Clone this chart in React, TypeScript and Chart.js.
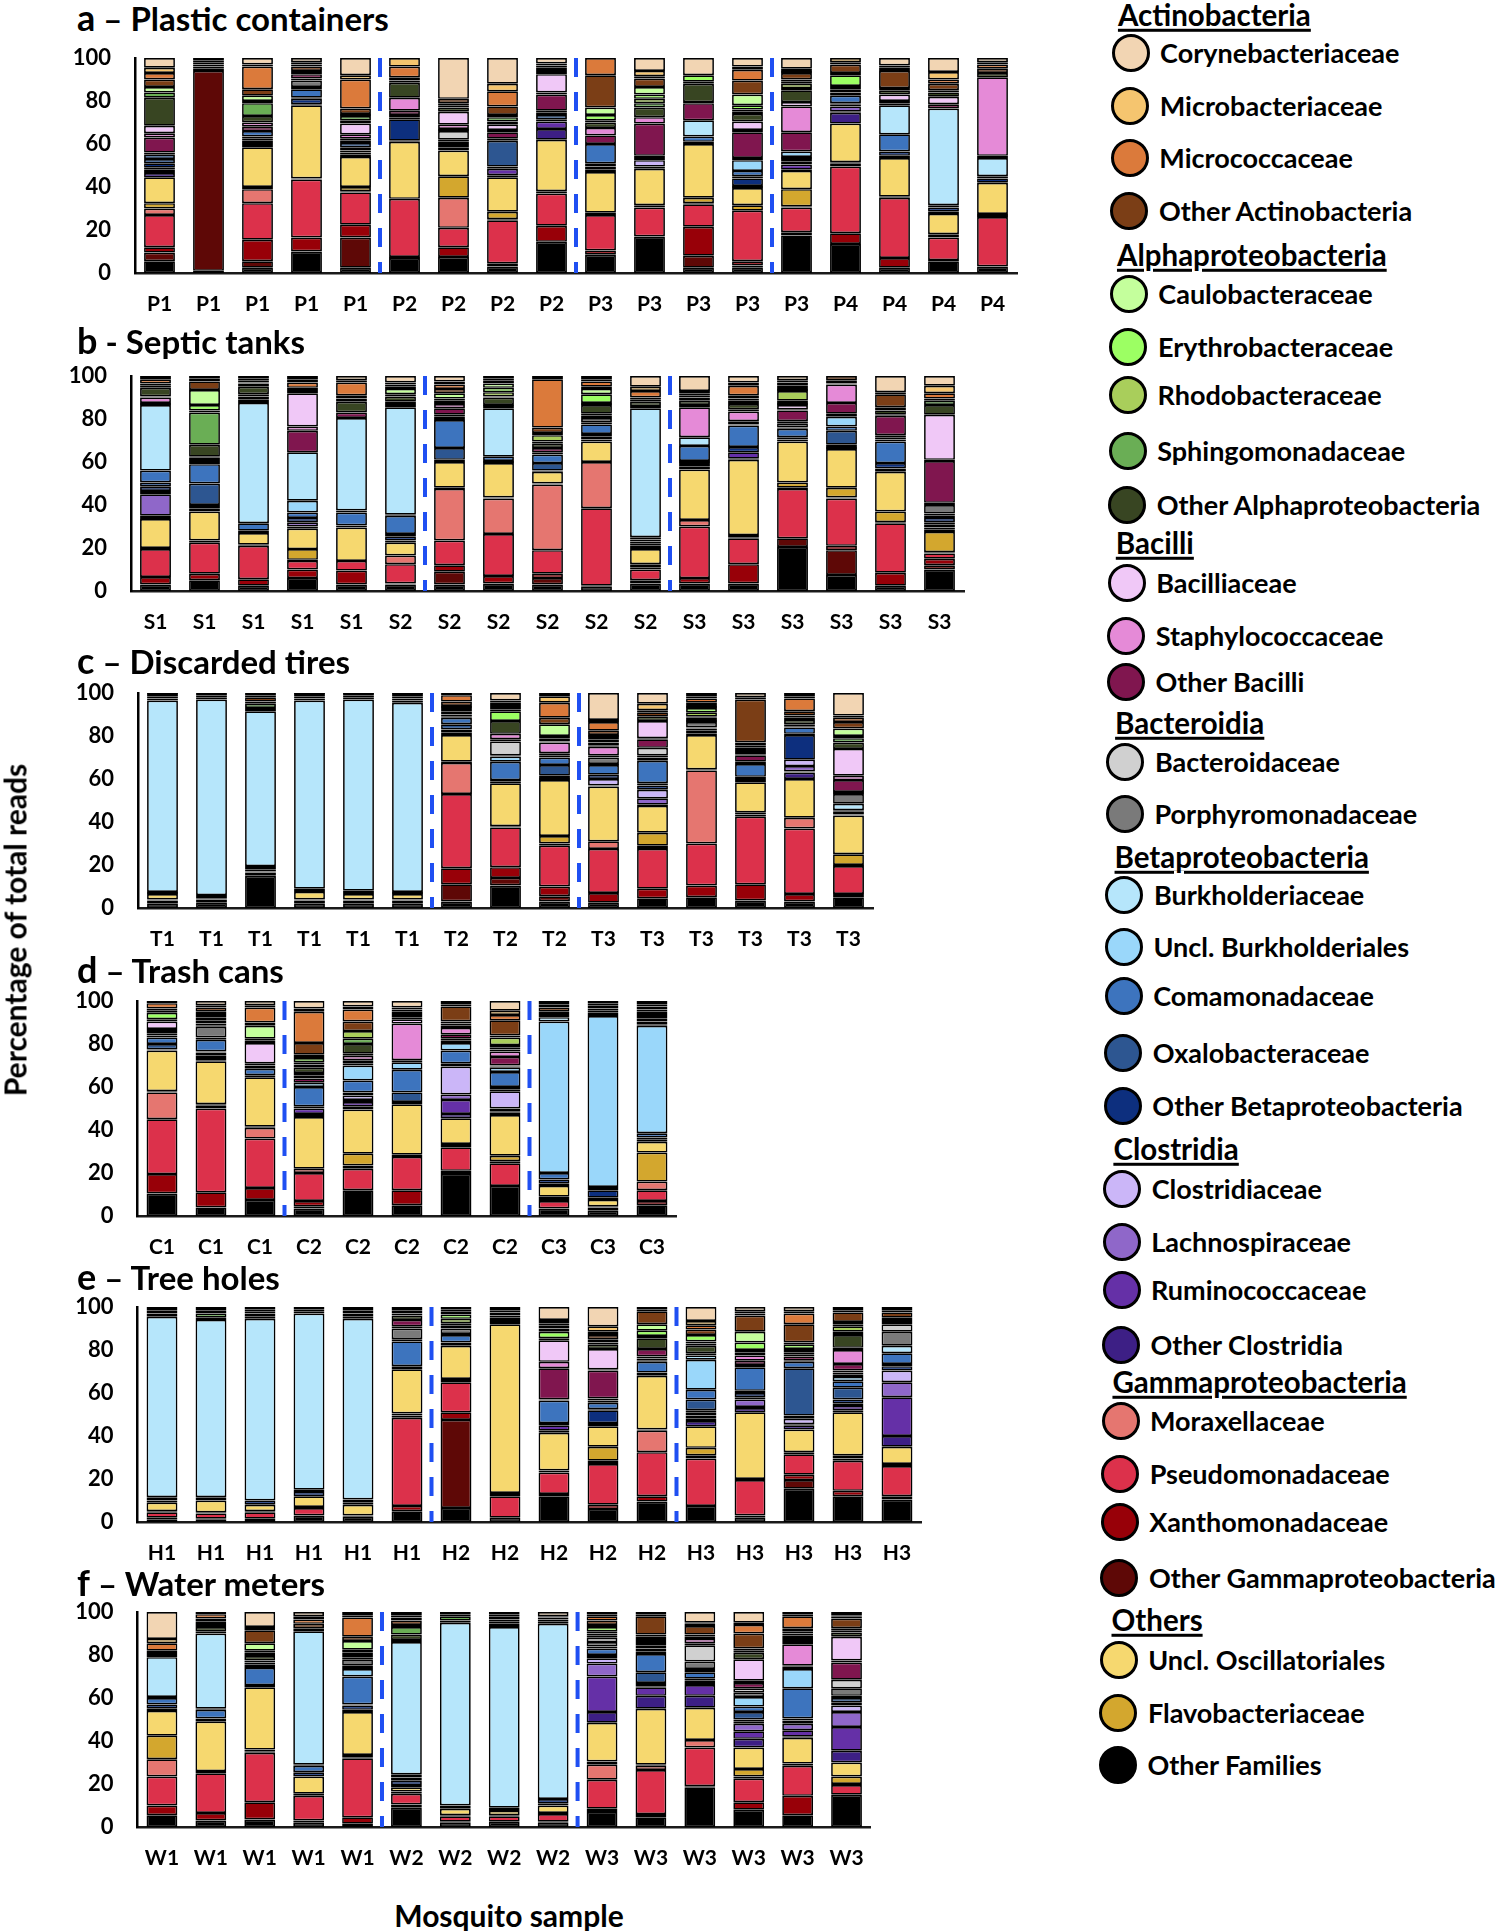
import React, { useEffect, useRef } from 'react';
import { Chart, registerables } from 'chart.js';

Chart.register(...registerables);

const FONT = 'Lato, "Open Sans", "DejaVu Sans", sans-serif';

// ---- Families (legend order) ----
const familyKeys = ['Cor','Mb','Mc','OAc','Ca','Er','Rh','Sp','OA','Bc','St','OBa','Bd','Po','Bu','UB','Co','Ox','OB','Cl','La','Ru','OC','Mo','Ps','Xa','OG','Os','Fl','OF'];
const familyNames = [
  'Corynebacteriaceae','Microbacteriaceae','Micrococcaceae','Other Actinobacteria',
  'Caulobacteraceae','Erythrobacteraceae','Rhodobacteraceae','Sphingomonadaceae','Other Alphaproteobacteria',
  'Bacilliaceae','Staphylococcaceae','Other Bacilli',
  'Bacteroidaceae','Porphyromonadaceae',
  'Burkholderiaceae','Uncl. Burkholderiales','Comamonadaceae','Oxalobacteraceae','Other Betaproteobacteria',
  'Clostridiaceae','Lachnospiraceae','Ruminococcaceae','Other Clostridia',
  'Moraxellaceae','Pseudomonadaceae','Xanthomonadaceae','Other Gammaproteobacteria',
  'Uncl. Oscillatoriales','Flavobacteriaceae','Other Families'
];
const familyColors = [
  '#F2D5B3','#F5C56F','#DB7A3B','#7B3E16',
  '#C4FF9C','#9CFF63','#A9CE5B','#6AAE55','#384522',
  '#F0C8F7','#E58AD7','#80164F',
  '#D0D0D0','#7A7A7A',
  '#B6E6FB','#9AD7FA','#3D74BE','#2D5691','#0D2F7E',
  '#CBB6F8','#8F67C9','#6530A7','#3D1F85',
  '#E57670','#DC314B','#980008','#5E0806',
  '#F6D86F','#D3A72E','#000000'
];
const groupTitles = ['Actinobacteria','Alphaproteobacteria','Bacilli','Bacteroidia','Betaproteobacteria','Clostridia','Gammaproteobacteria','Others'];
const groupFirstKeys = ['Cor','Ca','Bc','Bd','Bu','Cl','Mo','Os'];
// bottom -> top stacking order
const stackOrder = ['OF','OG','Xa','Ps','Mo','Fl','Os','OC','Ru','La','Cl','OB','Ox','Co','UB','Bu','Po','Bd','OBa','St','Bc','OA','Sp','Rh','Er','Ca','OAc','Mc','Mb','Cor'];

type Bar = { [k: string]: number };

// ---- a: Plastic containers ----
const plasticLabels = ['P1','P1','P1','P1','P1','P2','P2','P2','P2','P3','P3','P3','P3','P3','P4','P4','P4','P4'];
const plasticDividers = [5, 9, 13];
const plasticBars: Bar[] = [
  {OF:5.5,OG:4,Xa:2.5,Ps:15,Mo:3,Fl:2.5,Os:12,OC:2,Ru:1.5,La:1,OB:2,Ox:2,Co:2,Po:1,OBa:7,St:2,Bc:3.5,OA:13,Sp:2.5,Ca:2.5,OAc:3.5,Mc:3,Mb:2.5,Cor:4.5},
  {OF:1,OG:93,OB:1,OBa:1,OA:1,OAc:1,Mc:1,Cor:1},
  {OF:2.5,OG:3,Xa:10,Ps:17,Mo:6.5,Fl:1,Os:18.5,OC:1.5,Ru:1.5,La:1,OB:1,Co:2.5,OBa:2,St:2,OA:3,Sp:6,Ca:2.5,Er:1,OAc:3,Mc:10.5,Mb:1,Cor:3},
  {OF:10,Xa:6.5,Ps:27,Fl:0.5,Os:34,OC:0.5,OB:2.5,Ox:0.5,Co:4,UB:1,Po:3,Bd:1,OBa:2,OA:1.5,OAc:2,Mc:1,Mb:1,Cor:2},
  {OF:2.5,OG:14,Xa:6,Ps:15,Mo:0.5,Fl:2,Os:14,OC:1,Ru:1,OB:1,Ox:1.5,Co:2,UB:1,OBa:1,St:2,Bc:5,OA:1.5,Sp:2,Rh:1,OAc:2.5,Mc:13.5,Mb:2,Cor:8},
  {OF:7,OG:0.5,Ps:27,Os:26.5,OC:0.5,OB:10,Ox:1,Co:1,OBa:2,St:6,OA:7,Sp:1,OAc:1.5,Mc:5,Mb:4},
  {OF:7.5,Xa:4.5,Ps:9,Mo:14,Fl:10,Os:12,OC:1.5,OB:1,UB:1.5,Po:1,Bd:4,OBa:1,St:2,Bc:6,OA:2,Sp:1,Er:1,OAc:2,Cor:19},
  {OF:3,Xa:1.5,Ps:20,Mo:0.5,Fl:3.5,Os:16,OC:1,Ru:3,OB:1,Ox:12,Co:1,OBa:3,St:1,Bc:2.5,OA:1.5,Sp:2,Er:1,OAc:4,Mc:7,Mb:3.5,Cor:12},
  {OF:14.5,Xa:7.5,Ps:15,Fl:1,Os:24,OC:5,Ru:3.5,OB:1,Co:2,UB:1,Po:1,OBa:7.5,St:1,Bc:8.5,OA:1.5,Er:1.5,Ca:1,OAc:1,Cor:2.5},
  {OF:8.5,Xa:2,Ps:16.5,Fl:1,Os:19,OC:1,OB:1.5,Ox:1.5,Co:9,OBa:4,St:3.5,OA:2.5,Sp:1,Er:2.5,Ca:3.5,OAc:15,Mc:8,Mb:0.5,Cor:1.5},
  {OF:17,Ps:13.5,Fl:1,Os:17,OC:1,Cl:3,OB:1,Bd:1,OBa:15,St:3,OA:4.5,Sp:2,Rh:2,Er:2,Ca:3.5,OAc:4,Mc:1,Mb:2.5,Cor:6},
  {OF:2.5,OG:5.5,Xa:13.5,Ps:10.5,Mo:0.5,Fl:2.5,Os:25,OB:1,Co:2.5,Bu:7.5,OBa:8,St:0.5,OA:8.5,Sp:1,Er:3,Cor:8},
  {OF:2.5,OG:1,Xa:2,Ps:23.5,Fl:2.5,Os:8,OC:1,OB:3.5,Ox:1,Co:2.5,UB:5,Po:1,OBa:12,St:1,Bc:4,OA:3.5,Sp:1,Rh:1,Er:2,Ca:5,OAc:6.5,Mc:5,Mb:1.5,Cor:4},
  {OF:17.5,Xa:1.5,Ps:11.5,Mo:0.5,Fl:8,Os:8.5,OC:0.5,Ru:2.5,La:1.5,OB:1,Ox:1,UB:2.5,OBa:9,St:12,Bc:2,OA:5.5,Sp:1,Rh:2,Er:1,Ca:1,OAc:3,Mc:1,Mb:1,Cor:5},
  {OF:13.5,Xa:5,Ps:31,Mo:1.5,Fl:0.5,Os:18,OC:5,Ru:0.5,La:2.5,OB:1,Ox:0.5,Co:3.5,OBa:1.5,OA:1.5,Sp:1.5,Er:5,Ca:1,OAc:4,Mc:1,Mb:2},
  {OF:2.5,Xa:4.5,Ps:28,Fl:0.5,Os:18,OC:1,OB:2,Co:8,Bu:13.5,Po:1,OBa:1,Bc:3,OA:2,Sp:1,OAc:8,Mc:1.5,Mb:1,Cor:3.5},
  {OF:5.5,Xa:0.5,Ps:10.5,Fl:1.5,Os:9.5,OC:1,OB:2,Co:1,Bu:45,OBa:2,Bc:3.5,OA:2,Sp:1,OAc:3,Mc:2,Mb:3.5,Cor:6.5},
  {OF:3,Ps:23,Fl:1.5,Os:14.5,OB:2,Co:1,Bu:8.5,Po:1,St:36.5,OA:2,OAc:2,Mc:2,Mb:1,Cor:2},
];

// ---- b: Septic tanks ----
const septicLabels = ['S1','S1','S1','S1','S1','S2','S2','S2','S2','S2','S2','S3','S3','S3','S3','S3','S3'];
const septicDividers = [6, 11];
const septicBars: Bar[] = [
  {OF:3,Xa:3.5,Ps:13,Fl:0.5,Os:13.5,OC:1.5,La:10,Cl:1.5,OB:2,Ox:2,Co:5.5,Bu:30.5,OBa:1,St:2.5,Bc:0.5,OA:4,Sp:1,OAc:1,Mc:2,Mb:1.5},
  {OF:5,Xa:3,Ps:14.5,Fl:1,Os:13.5,OC:1.5,OB:1.5,Ox:10,Co:9,UB:1.5,OBa:1.5,St:0.5,OA:5.5,Sp:15,Rh:1,Er:2.5,Ca:7,OAc:4,Mc:1.5,Cor:1},
  {OF:2.5,Xa:3,Ps:15.5,Fl:0.5,Os:5.5,OB:1,Co:3.5,Bu:56,OBa:1.5,St:1.5,Bc:1,OA:3.5,Sp:1.5,Ca:0.5,OAc:1,Mc:1,Mb:1},
  {OF:6,Xa:4,Ps:4,Mo:0.5,Fl:5,Os:9.5,OC:1,La:2,OB:2,Co:2.5,UB:5.5,Bu:22.5,OBa:10,St:2,Bc:15.5,OA:1.5,OAc:1,Mc:2.5,Mb:1.5,Cor:1.5},
  {OF:3,Xa:6.5,Ps:4.5,Os:15.5,OB:1,Co:6,UB:1,Bu:43,OBa:2.5,OA:5,Sp:1.5,OAc:1.5,Mc:6,Mb:1,Cor:2},
  {OF:3,Xa:0.5,Ps:9,Mo:4,Os:6,OC:1,OB:2,Ox:1,Co:8.5,UB:0.5,Bu:50,OBa:1,St:1.5,OA:2.5,Sp:1,Ca:2.5,OAc:1,Mc:1,Mb:1,Cor:3},
  {OF:3,OG:6,Xa:3,Ps:11.5,Mo:24,Fl:0.5,Os:12,OB:1,Ox:5.5,Co:13,UB:1.5,Bd:1,OBa:3,St:2,OA:1.5,Sp:1,Ca:2.5,OAc:2,Mc:2,Mb:1.5,Cor:2.5},
  {OF:3.5,Xa:3.5,Ps:19.5,Mo:16.5,Fl:0.5,Os:16,OB:1,Co:2,Bu:22.5,OBa:1,St:0.5,OA:3.5,Sp:0.5,Rh:2,Er:2,Ca:2,OAc:1.5,Mc:1,Cor:1},
  {OF:3,OG:3,Xa:2,Ps:11,Mo:30.5,Fl:0.5,Os:5.5,OB:0.5,Ox:3.5,Co:4,Po:1,OBa:2,OA:2,Sp:1,Rh:3,Er:1,OAc:2.5,Mc:22.5,Cor:1.5},
  {OF:2,OG:0.5,Ps:36,Mo:21.5,Os:9.5,OC:1,OB:1.5,Ox:1,Co:4.5,UB:1,Po:2,Bd:1,OBa:1,OA:4,Sp:1,Er:4,Ca:2.5,OAc:1,Mc:2.5,Mb:1,Cor:1.5},
  {OF:3.5,Xa:1.5,Ps:5,Mo:1,Fl:1.5,Os:7,OC:1.5,Ru:1,OB:1,Co:1,UB:1,Bu:60,OBa:1,OA:2,Sp:1,OAc:1,Mc:3,Mb:2,Cor:5},
  {OF:3.5,Xa:2.5,Ps:24,Mo:3,Os:23.5,OC:1.5,Ru:1.5,OB:1,Co:7,Bu:4,St:14,Bc:1,OA:2,Sp:1.5,Rh:1,Er:1,OAc:1,Cor:7},
  {OF:3.5,Xa:9,Ps:12,Mo:0.5,Fl:1,Os:35,OC:0.5,Ru:3,OB:2.5,Co:10,UB:0.5,Bd:1.5,St:4.5,Bc:1,OA:2.5,Sp:1.5,Er:1,OAc:1.5,Mc:4.5,Mb:1.5,Cor:3},
  {OF:20.5,OG:4,Ps:23,Mo:0.5,Fl:2.5,Os:19,OC:1,OB:1,Co:4,UB:0.5,Po:2,Bd:1,OBa:5,St:0.5,Bc:2,OA:1,Sp:1,Rh:4.5,Er:1,OAc:1.5,Mc:1.5,Mb:1,Cor:2},
  {OF:7.5,OG:11.5,Xa:2,Ps:22,Mo:0.5,Fl:4.5,Os:18,OC:1,OB:1,Ox:6.5,Co:2,UB:4.5,Bu:1.5,OBa:5,St:8.5,OA:0.5,Sp:1.5,OAc:2},
  {OF:2.5,Xa:6,Ps:23,Mo:0.5,Fl:5,Os:18.5,OC:1.5,OB:2.5,Co:10,UB:1,Po:1,Bd:1,OBa:9,St:0.5,OA:2,Sp:1.5,OAc:6,Mc:1,Cor:7.5},
  {OF:10,OG:2,Xa:3,Ps:2.5,Mo:0.5,Fl:9.5,Os:1,OC:1,Ru:1.5,La:1,OB:2,Co:1,UB:1,Po:4,Bd:1,OBa:19.5,St:0.5,Bc:21,OA:4.5,Sp:2,OAc:1,Mc:2.5,Mb:3.5,Cor:4.5},
];

// ---- c: Discarded tires ----
const tireLabels = ['T1','T1','T1','T1','T1','T1','T2','T2','T2','T3','T3','T3','T3','T3','T3'];
const tireDividers = [6, 9];
const tireBars: Bar[] = [
  {OF:2,Ps:1.5,Fl:0.5,Os:2.5,OB:1,Bu:89,OA:1,OAc:1,Mc:1,Cor:0.5},
  {OF:2.5,Fl:1.5,Os:0.5,OB:1.5,Bu:91,OA:1,OAc:1,Cor:1},
  {OF:15,Fl:1.5,Os:0.5,OC:1,OB:1.5,Bu:72,OA:1.5,Sp:2,Rh:1,OAc:2,Mc:1,Cor:1},
  {OF:2,Ps:1.5,Fl:0.5,Os:3.5,OB:1.5,Bu:87.5,OA:1,OAc:1,Mc:1,Cor:0.5},
  {OF:2,Ps:1.5,Fl:0.5,Os:2.5,OB:1.5,Bu:89,OA:1,OAc:1,Mc:0.5,Cor:0.5},
  {OF:2,Ps:1.5,Fl:0.5,Os:2.5,OB:1,Bu:88,OBa:1,OA:1,OAc:1,Mc:1,Cor:0.5},
  {OF:3,OG:8,Xa:7.5,Ps:34.5,Mo:14.5,Fl:0.5,Os:12.5,OC:1,OB:1.5,Ox:2.5,Co:3,UB:0.5,OBa:1,OA:1.5,Sp:1.5,Rh:1,OAc:2,Mc:3,Mb:1},
  {OF:10.5,OG:3.5,Xa:5,Ps:18.5,Fl:0.5,Os:20,OB:1,Ox:0.5,Co:8.5,UB:2.5,Po:0.5,Bd:6.5,OBa:1,St:2.5,OA:6,Er:4.5,Ca:1,OAc:1.5,Mc:1.5,Mb:1,Cor:3.5},
  {OF:3,OG:2.5,Xa:4.5,Ps:19,Mo:1,Fl:3.5,Os:26,OC:1,OB:1,Ox:5,Co:3.5,UB:1,OBa:1,St:5,Bc:0.5,OA:1.5,Sp:1,Ca:5.5,OAc:3,Mc:7,Mb:3,Cor:1.5},
  {OF:2.5,Xa:4.5,Ps:20.5,Mo:3.5,Os:25.5,OC:0.5,Cl:3,OB:2,Co:4.5,UB:0.5,Po:3,Bd:1,St:4,Bc:0.5,OA:1.5,Sp:1.5,Rh:1,Er:1,OAc:2,Mc:4,Mb:1,Cor:12.5},
  {OF:4.5,Xa:4.5,Ps:18.5,Mo:1.5,Fl:6,Os:12.5,OC:0.5,La:3,Cl:4,OB:2,Ox:1,Co:10.5,UB:1.5,Po:1,Bd:3.5,OBa:4,St:0.5,Bc:8,OA:2,OAc:2,Mc:1,Mb:3,Cor:5},
  {OF:5,Xa:5.5,Ps:19.5,Mo:34,Fl:0.5,Os:16,OC:0.5,OB:1.5,Co:1,UB:0.5,Po:2.5,Bd:0.5,OBa:0.5,OA:1,Sp:0.5,Rh:2,Er:2,Ca:1,OAc:1.5,Mc:2,Mb:1,Cor:1.5},
  {OF:3.5,Xa:7.5,Ps:31.5,Mo:1,Fl:1,Os:14,OC:1,OB:1.5,Co:6,UB:1,OBa:3,St:0.5,OA:1.5,Sp:1.5,Rh:1,Er:1.5,OAc:20,Mc:1,Cor:2},
  {OF:3,Xa:3.5,Ps:30.5,Mo:5,Os:18,OC:3,Ru:0.5,La:2.5,Cl:3,OB:11.5,Ox:0.5,Co:3,UB:0.5,OBa:1,OA:2,Sp:1,Rh:1,OAc:2,Mc:6,Mb:1,Cor:1.5},
  {OF:5,Xa:1.5,Ps:13,Mo:0.5,Fl:5,Os:18,OC:0.5,OB:1.5,Co:0.5,Bu:3,Po:4.5,Bd:1,OBa:5.5,St:2,Bc:12.5,OA:3,Sp:2,Rh:1,Ca:3.5,OAc:3,Mc:2,Mb:1,Cor:10.5},
];

// ---- d: Trash cans ----
const trashLabels = ['C1','C1','C1','C2','C2','C2','C2','C2','C3','C3','C3'];
const trashDividers = [3, 8];
const trashBars: Bar[] = [
  {OF:10.5,Xa:9,Ps:25.5,Mo:12.5,Fl:0.5,Os:19,OB:0.5,Ox:2.5,Co:3,UB:1,Po:1,Bd:1,OBa:1,Bc:3.5,OA:1,Er:3,Ca:1,OAc:1,Mc:2.5,Cor:1},
  {OF:4,Xa:7,Ps:39,Mo:1.5,Fl:0.5,Os:20,OC:0.5,La:1.5,Cl:0.5,OB:1.5,Ox:0.5,Co:5.5,UB:1,Po:5,Bd:0.5,OBa:1,OA:1.5,Sp:1.5,Rh:1.5,Er:1,OAc:2,Mc:1,Cor:2},
  {OF:7.5,Xa:5.5,Ps:23,Mo:5,Fl:0.5,Os:23,OB:1,Co:3,UB:1.5,OBa:1,Bc:9.5,OA:1,Sp:1,Ca:6,OAc:1.5,Mc:7,Mb:1,Cor:2},
  {OF:3.5,OG:1,Xa:2.5,Ps:13,Mo:2,Os:24,OC:1.5,Ru:2.5,OB:1,Co:9,UB:2,OBa:2,St:1.5,Bc:1,OA:2.5,Sp:1.5,Rh:1,Er:2,Ca:1.5,OAc:5.5,Mc:14.5,Mb:1.5,Cor:3.5},
  {OF:12,Ps:10,Mo:1.5,Fl:5.5,Os:20.5,OC:1.5,Ru:2,La:1,Cl:2,OB:1.5,Co:5.5,UB:7,Po:1,OBa:1.5,St:2,Bc:1,OA:4.5,Sp:2.5,Rh:3.5,OAc:4.5,Mc:5.5,Mb:1.5,Cor:2.5},
  {OF:5,Xa:7,Ps:15.5,Fl:1,Os:23.5,OB:1,Ox:4.5,Co:10.5,UB:3.5,OBa:1,St:17,Bc:2,OA:1,Sp:1,Er:1.5,OAc:1,Mc:1,Cor:3},
  {OF:19.5,Xa:1.5,Ps:11,Mo:1.5,Os:12,OC:2,Ru:6.5,La:2.5,Cl:13,OB:1.5,Co:6,UB:3.5,Po:1,Bd:1,OBa:2,St:3,OA:1,Sp:1,Er:1,OAc:7,Mc:1,Cor:1.5},
  {OF:14,Ps:10.5,Mo:1,Fl:2.5,Os:19,OC:1,Ru:0.5,La:1.5,Cl:8,OB:1,Ox:1,Co:7,UB:2,Po:0.5,Bd:0.5,OBa:4,St:2.5,Bc:1,OA:1,Sp:1,Rh:3.5,Er:1,OAc:7,Mc:2.5,Mb:2,Cor:4.5},
  {OF:3.5,Ps:3.5,Mo:0.5,Fl:1.5,Os:5,OC:1,OB:2,Co:3,UB:70.5,Bu:2,OBa:1,OA:1.5,OAc:2,Mc:1.5,Cor:1.5},
  {OF:2.5,Ps:1.5,Fl:0.5,Os:3,OC:1,OB:3.5,Co:1.5,UB:79.5,Bu:1.5,OBa:1,OA:1,OAc:1.5,Mc:1,Cor:1},
  {OF:5,Xa:2,Ps:5,Mo:4,Fl:13.5,Os:5,OC:1,OB:1,Co:2,UB:50,Bu:0.5,OBa:1.5,St:1.5,OA:1.5,Sp:1.5,Rh:1,OAc:1.5,Mc:1,Cor:1.5},
];

// ---- e: Tree holes ----
const treeLabels = ['H1','H1','H1','H1','H1','H1','H2','H2','H2','H2','H2','H3','H3','H3','H3','H3'];
const treeDividers = [6, 11];
const treeBars: Bar[] = [
  {OF:1,Xa:1,Ps:2.5,Fl:0.5,Os:4,OC:1,OB:1.5,Bu:84,OA:1.5,OAc:1.5,Mc:1,Cor:0.5},
  {OF:1,Xa:0.5,Ps:2.5,Fl:0.5,Os:5.5,OB:1.5,Bu:82.5,OA:1,Sp:2,OAc:1.5,Mc:1,Cor:0.5},
  {OF:1.5,Ps:3,Fl:0.5,Os:3,OB:2,Bu:84.5,OA:1,OAc:1.5,Mc:1,Mb:1,Cor:1},
  {OF:3,Ps:3.5,Fl:0.5,Os:5,OB:2,Co:1,Bu:82,OA:1,OAc:1,Cor:1},
  {OF:2.5,Ps:0.5,Os:5,OC:1,OB:1.5,Bu:84,OBa:1,OA:1.5,OAc:1.5,Mc:1,Cor:0.5},
  {OF:5,Xa:2.5,Ps:41,Mo:1,Fl:1,Os:20.5,OB:1.5,Co:11.5,UB:1,Po:5,Bd:1,OBa:3,OA:2,Sp:1,Rh:1.5,OAc:1,Cor:0.5},
  {OF:6.5,OG:41,Xa:3.5,Ps:14,Mo:1.5,Os:15.5,OB:1.5,Co:3.5,UB:0.5,Po:2.5,OBa:1.5,OA:1,Rh:2,Er:2,OAc:1.5,Mc:1,Cor:1},
  {OF:2,Ps:10,Mo:1.5,Os:78.5,OB:1.5,Co:1.5,OA:1,OAc:1.5,Mc:1,Cor:1.5},
  {OF:12,OG:1,Ps:10,Fl:1,Os:17.5,OC:1,Ru:2.5,OB:1,Co:10.5,UB:0.5,OBa:14.5,St:3,Bc:10,OA:1,Er:3,Ca:1.5,OAc:1.5,Mc:1,Mb:1.5,Cor:6},
  {OF:6,Xa:2,Ps:19,Mo:1.5,Fl:6.5,Os:9.5,OC:1.5,OB:6,Ox:0.5,Co:3,UB:1,Po:1,OBa:13,St:0.5,Bc:9.5,OA:2,Sp:1,Er:1.5,OAc:2,Mc:1.5,Mb:2.5,Cor:9},
  {OF:9.5,Xa:2.5,Ps:20.5,Mo:10,Fl:0.5,Os:25,OB:1.5,Co:5,UB:0.5,Po:1,Bd:1,OBa:3.5,OA:5,Sp:1,Er:2.5,Ca:3,OAc:6,Mc:1,Cor:1},
  {OF:7.5,Ps:22,Mo:1.5,Fl:3.5,Os:10,OC:2.5,Ru:1,La:1.5,Cl:1.5,OB:1,Ox:5,Co:4.5,UB:14,Bu:2,OBa:1,OA:3.5,Sp:1,Rh:1,Er:3,OAc:2.5,Mc:2,Mb:2,Cor:6.5},
  {OF:2,Xa:1,Ps:16.5,Fl:0.5,Os:31,OC:2,Ru:0.5,La:3.5,Cl:1,OB:2,Ox:1,Co:11,UB:1,OBa:2,St:2.5,OA:1.5,Sp:1,Er:3.5,Ca:5,OAc:7.5,Mc:1,Mb:1,Cor:2},
  {OF:15.5,OG:4,Xa:2.5,Ps:9.5,Fl:1,Os:10.5,OC:2,Ru:0.5,Cl:2.5,OB:1.5,Ox:22,Co:3,UB:0.5,OBa:2,OA:1,Sp:1,Rh:1.5,Er:2,Ca:1,OAc:8.5,Mc:5,Mb:1,Cor:2},
  {OF:12,Xa:2.5,Ps:14,Mo:1,Fl:1.5,Os:20,OC:1,Ru:2,La:1,OB:2,Ox:5.5,Co:3,UB:2,Bu:1,Po:1,Bd:1,OBa:3,St:6.5,Bc:1,OA:6,Sp:1.5,Rh:2.5,Er:1,Ca:1,OAc:4.5,Mc:1,Cor:1.5},
  {OF:10.5,OG:1.5,Ps:14,Fl:1,Os:8,OC:5,Ru:18,La:7,Cl:5.5,OB:2,Ox:1,Co:5,Bu:3.5,Po:6.5,Bd:3.5,OBa:1,OA:1,Sp:1,OAc:2.5,Mc:1,Cor:1.5},
];

// ---- f: Water meters ----
const meterLabels = ['W1','W1','W1','W1','W1','W2','W2','W2','W2','W3','W3','W3','W3','W3','W3'];
const meterDividers = [5, 9];
const meterBars: Bar[] = [
  {OF:5.5,Xa:4.5,Ps:13.5,Mo:8,Fl:11,Os:11.5,OC:1,OB:2,Co:3,UB:0.5,Bu:18.5,OA:1.5,OAc:1.5,Mc:3.5,Mb:2,Cor:12.5},
  {OF:3,Xa:3.5,Ps:18.5,Fl:1,Os:23,OB:1.5,Co:4,UB:0.5,Bu:35,OBa:1,OA:2,Sp:1,Rh:1.5,OAc:1.5,Mc:2,Cor:1},
  {OF:3.5,Xa:8,Ps:23,Mo:0.5,Fl:1,Os:29,OB:1,Co:8,UB:1.5,Bu:1,OBa:1,OA:2,Sp:1.5,Rh:1,Ca:3.5,OAc:6,Mc:1.5,Cor:7},
  {OF:2,OG:1,Ps:11.5,Fl:1,Os:8,OB:2,Co:3,UB:0.5,Bu:62,OA:1.5,OAc:2,Mc:2,Mb:1.5,Cor:2},
  {OF:1.5,Xa:3,Ps:27.5,Mo:0.5,Fl:1,Os:20,OC:1,OB:2,Ox:0.5,Co:13,UB:3.5,Bu:1.5,Po:3,Bd:1,OBa:1,OA:1,Sp:1.5,Ca:4,OAc:2,Mc:9,Mb:1,Cor:1.5},
  {OF:9,Xa:1.5,Ps:5,Fl:1,Os:2,OC:1,OB:2,Co:1.5,UB:1.5,Bu:61.5,OBa:1,OA:2.5,Sp:3.5,Rh:1,OAc:2,Mc:1.5,Mb:1,Cor:1.5},
  {OF:2,Xa:0.5,Ps:2.5,Fl:0.5,Os:3,OB:1.5,Bu:85,OA:1,Sp:2,OAc:1,Cor:1},
  {OF:2.5,Ps:2.5,Fl:0.5,Os:2,OB:1.5,Bu:84,OBa:1.5,St:1,OA:1,OAc:1.5,Mc:1,Cor:1},
  {OF:2,Xa:0.5,Ps:3.5,Fl:0.5,Os:3.5,OC:1,OB:2,Bu:81.5,OA:1,OAc:1,Mc:1,Mb:0.5,Cor:2},
  {OF:7,OG:1.5,Ps:13.5,Mo:7,Fl:1.5,Os:18,OC:5,Ru:16.5,La:6,Cl:2.5,OB:1.5,Co:3,UB:1,Po:2,Bd:2,OBa:1,OA:1,Sp:1,Er:2,Ca:1,OAc:2,Mc:2,Mb:1,Cor:1},
  {OF:4.5,Xa:1.5,Ps:20.5,Mo:2,Fl:0.5,Os:26,OC:6,Ru:4,La:0.5,OB:1.5,Ox:5,Co:8.5,UB:1,OBa:1.5,OA:1.5,Sp:1.5,Rh:1,Er:1.5,Ca:1,OAc:8.5,Mc:1,Cor:1},
  {OF:18.5,OG:0.5,Ps:18,Mo:3.5,Os:15,OC:5.5,Ru:5,La:0.5,Cl:0.5,OB:1,Ox:1,Co:3,UB:1.5,Po:3.5,Bd:7.5,OBa:1,St:2,OA:1,Sp:1,OAc:4,Mc:1,Mb:0.5,Cor:5},
  {OF:8,Xa:3.5,Ps:11,Mo:1,Fl:3.5,Os:10,OC:4,Ru:3.5,La:3.5,Cl:1,OB:1,Ox:3.5,Co:2.5,UB:4.5,Po:2,Bd:2,OBa:2.5,St:1,Bc:10,OA:3,Sp:1,Rh:1,OAc:7,Mc:4,Mb:1,Cor:5},
  {OF:5.5,Xa:9,Ps:14,Fl:1,Os:12,OC:0.5,Ru:3,La:3,OB:1.5,Ox:1,Co:14,UB:9,Po:0.5,Bd:0.5,OBa:0.5,St:10,Bc:1,OA:1.5,Sp:1.5,Er:1,Ca:1,OAc:1.5,Mc:5.5,Mb:1,Cor:1},
  {OF:15,Ps:4.5,Mo:0.5,Fl:3.5,Os:6.5,OC:5.5,Ru:11,La:7,Cl:3,OB:1.5,Co:2,UB:1,Po:3.5,Bd:4,OBa:8,St:1,Bc:11,OA:2,Sp:1,Rh:1,OAc:4.5,Mc:1,Mb:0.5,Cor:1.5},
];

// ---- layout ----
const PITCH = 49;
const PLOT_H = 215;
const PAD_T = 42;
const X_H = 62;

const panels = [
  { letter: 'a', dash: '–', title: 'Plastic containers', labels: plasticLabels, bars: plasticBars, dividers: plasticDividers, top: 58, axisLeft: 135, titleY: 18 },
  { letter: 'b', dash: '-', title: 'Septic tanks', labels: septicLabels, bars: septicBars, dividers: septicDividers, top: 376, axisLeft: 131, titleY: 341 },
  { letter: 'c', dash: '–', title: 'Discarded tires', labels: tireLabels, bars: tireBars, dividers: tireDividers, top: 693, axisLeft: 138, titleY: 661 },
  { letter: 'd', dash: '–', title: 'Trash cans', labels: trashLabels, bars: trashBars, dividers: trashDividers, top: 1001, axisLeft: 137.5, titleY: 970 },
  { letter: 'e', dash: '–', title: 'Tree holes', labels: treeLabels, bars: treeBars, dividers: treeDividers, top: 1307, axisLeft: 137.5, titleY: 1277 },
  { letter: 'f', dash: '–', title: 'Water meters', labels: meterLabels, bars: meterBars, dividers: meterDividers, top: 1612, axisLeft: 137.5, titleY: 1583 },
];

// legend row centres (headers + items, in legend order)
const legendRowY = [
  14.8, 53, 106, 157.7, 210.6,
  255, 294.4, 347.3, 395.4, 450.8, 505,
  543, 582.6, 635.6, 682.4,
  723, 762.4, 814.2,
  857.3, 895.4, 947.2, 996.4, 1053, 1106,
  1149, 1188.6, 1241.6, 1289.6, 1345,
  1382, 1421.4, 1474.3, 1522.4, 1577.8,
  1619.7, 1660.3, 1713.3, 1765,
];

function dividerPlugin(dividers: number[]) {
  return {
    id: 'groupDividers',
    afterDatasetsDraw(chart: any) {
      const { ctx, chartArea, scales } = chart;
      const x = scales.x;
      ctx.save();
      ctx.strokeStyle = '#1F4FF2';
      ctx.lineWidth = 4;
      ctx.setLineDash([19, 15]);
      dividers.forEach((k) => {
        const px = (x.getPixelForValue(k - 1) + x.getPixelForValue(k)) / 2;
        ctx.beginPath();
        ctx.moveTo(px, chartArea.top);
        ctx.lineTo(px, chartArea.bottom);
        ctx.stroke();
      });
      ctx.restore();
    },
  };
}

function BarPanel({ panel }: { panel: any }) {
  const ref = useRef<HTMLCanvasElement | null>(null);
  const n = panel.labels.length;
  const width = Math.ceil(panel.axisLeft + n * PITCH + 10);
  const padR = width - panel.axisLeft - n * PITCH;
  const height = PAD_T + PLOT_H + X_H;

  useEffect(() => {
    if (!ref.current) return;
    const datasets = stackOrder.map((key) => {
      const i = familyKeys.indexOf(key);
      return {
        label: familyNames[i],
        data: panel.bars.map((b: Bar) => b[key] ?? 0),
        backgroundColor: familyColors[i],
        borderColor: '#000000',
        borderWidth: 1.7,
        borderSkipped: false,
        barPercentage: 0.63,
        categoryPercentage: 1,
        stack: 'reads',
      };
    });
    const chart = new Chart(ref.current, {
      type: 'bar',
      data: { labels: panel.labels, datasets: datasets as any },
      options: {
        responsive: false,
        animation: false,
        events: [],
        layout: { padding: { top: PAD_T, right: padR, left: 0, bottom: 0 } },
        plugins: { legend: { display: false }, tooltip: { enabled: false } },
        scales: {
          x: {
            stacked: true,
            grid: { display: false, drawTicks: false },
            border: { display: true, color: '#1a1a1a', width: 2.5 },
            ticks: { font: { family: FONT, size: 21, weight: 'bold' }, color: '#000', padding: 19, autoSkip: false, maxRotation: 0, minRotation: 0 },
            afterFit: (s: any) => { s.height = X_H; },
          },
          y: {
            stacked: true,
            min: 0,
            max: 100,
            grid: { display: false, drawTicks: false },
            border: { display: true, color: '#000', width: 2.5 },
            ticks: { stepSize: 20, font: { family: FONT, size: 22, weight: 'bold' }, color: '#000', padding: 24 },
            afterFit: (s: any) => { s.width = panel.axisLeft; },
          },
        },
      } as any,
      plugins: [dividerPlugin(panel.dividers)],
    });
    return () => chart.destroy();
  }, []);

  return (
    <canvas
      ref={ref}
      width={width}
      height={height}
      style={{ position: 'absolute', left: 0, top: panel.top - PAD_T, width, height }}
    />
  );
}

function Legend() {
  const rows: any[] = [];
  let r = 0;
  familyKeys.forEach((key, i) => {
    const g = groupFirstKeys.indexOf(key);
    if (g >= 0) {
      const y = legendRowY[r++];
      const hx = 1118 - (6.5 * y) / 1620;
      rows.push(
        <div key={'h' + g} style={{
          position: 'absolute', left: hx, top: y, transform: 'translateY(-50%)',
          fontFamily: FONT, fontWeight: 700, fontSize: 29.5, lineHeight: 1.1, color: '#000',
          textDecoration: 'underline', textDecorationThickness: '2.5px', textUnderlineOffset: '3px', whiteSpace: 'nowrap',
        }}>{groupTitles[g]}</div>
      );
    }
    const y = legendRowY[r++];
    const cx = 1131 - (13 * y) / 1765;
    rows.push(
      <div key={'c' + key} style={{
        position: 'absolute', left: cx - 19, top: y - 19, width: 38, height: 38, boxSizing: 'border-box',
        borderRadius: '50%', border: '3px solid #000', background: familyColors[i],
      }} />
    );
    rows.push(
      <div key={'t' + key} style={{
        position: 'absolute', left: cx + 29.5, top: y, transform: 'translateY(-50%)',
        fontFamily: FONT, fontWeight: 700, fontSize: 27, lineHeight: 1.1, color: '#000', whiteSpace: 'nowrap',
      }}>{familyNames[i]}</div>
    );
  });
  return <>{rows}</>;
}

export default function App() {
  return (
    <div style={{ position: 'absolute', left: 0, top: 0, width: 1499, height: 1931, background: '#fff', overflow: 'hidden' }}>
      {panels.map((p) => (
        <React.Fragment key={p.letter}>
          <div style={{
            position: 'absolute', left: 77, top: p.titleY, transform: 'translateY(-50%)',
            fontFamily: FONT, fontWeight: 700, color: '#000', whiteSpace: 'nowrap', lineHeight: 1.1,
          }}>
            <span style={{ fontSize: 36 }}>{p.letter}</span>
            <span style={{ fontSize: 33 }}>{' ' + p.dash + ' ' + p.title}</span>
          </div>
          <BarPanel panel={p} />
        </React.Fragment>
      ))}
      <div style={{
        position: 'absolute', left: 15, top: 930, transform: 'translate(-50%, -50%) rotate(-90deg)',
        fontFamily: FONT, fontWeight: 700, fontSize: 30, color: '#000', whiteSpace: 'nowrap', lineHeight: 1.1,
      }}>Percentage of total reads</div>
      <div style={{
        position: 'absolute', left: 509, top: 1915, transform: 'translate(-50%, -50%)',
        fontFamily: FONT, fontWeight: 700, fontSize: 30, color: '#000', whiteSpace: 'nowrap', lineHeight: 1.1,
      }}>Mosquito sample</div>
      <Legend />
    </div>
  );
}
